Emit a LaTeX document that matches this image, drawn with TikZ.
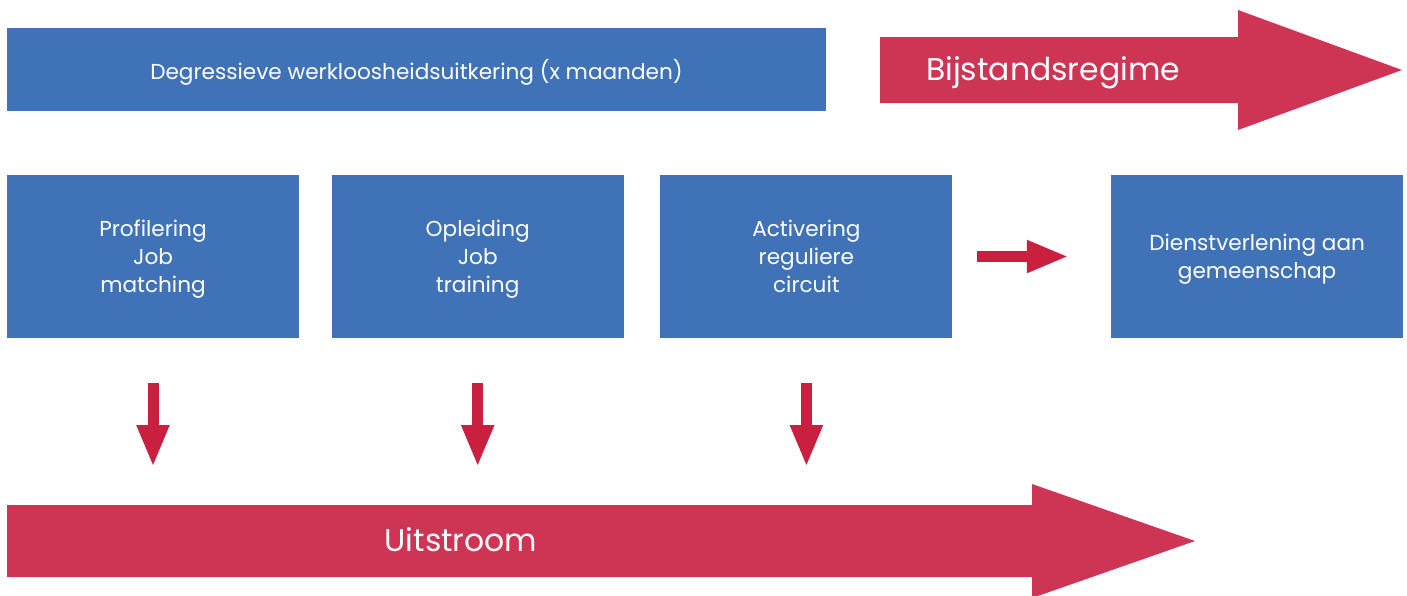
\documentclass[tikz,border=0pt]{standalone}
\usepackage{fontspec}
\setmainfont{Poppins}
\usetikzlibrary{positioning, arrows.meta}

\definecolor{boxblue}{RGB}{64,114,184}
\definecolor{flowred}{RGB}{206,53,84}
\definecolor{stepred}{RGB}{200,32,62}

\begin{document}
\begin{tikzpicture}[x=0.2mm,y=-0.2mm,
  box/.style={fill=boxblue, text=white, align=center, inner sep=0pt,
    minimum width=58.4mm, minimum height=32.6mm, text depth=-5.4pt,
    font=\fontsize{12.3}{16}\selectfont},
  bigtext/.style={text=white, font=\fontsize{17.9}{22}\selectfont},
  stepto/.style={draw=stepred, line width=2.2mm,
    -{Triangle[width=6mm,length=8.4mm]}}]
 \useasboundingbox (0,0) rectangle (1407,595);

 % top row
 \node[box, minimum width=163.8mm, minimum height=16.6mm, text depth=-2pt]
  (werk) at (416.5,69.5) {Degressieve werkloosheidsuitkering (x maanden)};
 \fill[flowred] (880,37) -- (1238,37) -- (1238,10) -- (1402,70)
  -- (1238,130) -- (1238,103) -- (880,103) -- cycle;
 \node[bigtext] (bijst) at (1053,72.5) {Bijstandsregime};

 % steps
 \node[box] (prof) at (153,256.5) {Profilering\\Job\\matching};
 \node[box, right=6.4mm of prof] (opl) {Opleiding\\Job\\training};
 \node[box, right=7.2mm of opl] (act) {Activering\\reguliere\\circuit};
 \node[box, right=31.6mm of act] (dienst) {Dienstverlening aan\\gemeenschap};

 % outflow
 \fill[flowred] (7,505) -- (1032,505) -- (1032,484) -- (1195,541)
  -- (1032,598) -- (1032,577) -- (7,577) -- cycle;
 \node[bigtext] (uit) at (461,540) {Uitstroom};
 \coordinate (uitrow) at (0,505);

 \draw[stepto, shorten <=4.8mm, shorten >=8.4mm] (act.east) -- (dienst.west);
 \foreach \n in {prof, opl, act}
  \draw[stepto, shorten <=9mm, shorten >=7.6mm] (\n.south) -- (\n.south |- uitrow);
\end{tikzpicture}
\end{document}
